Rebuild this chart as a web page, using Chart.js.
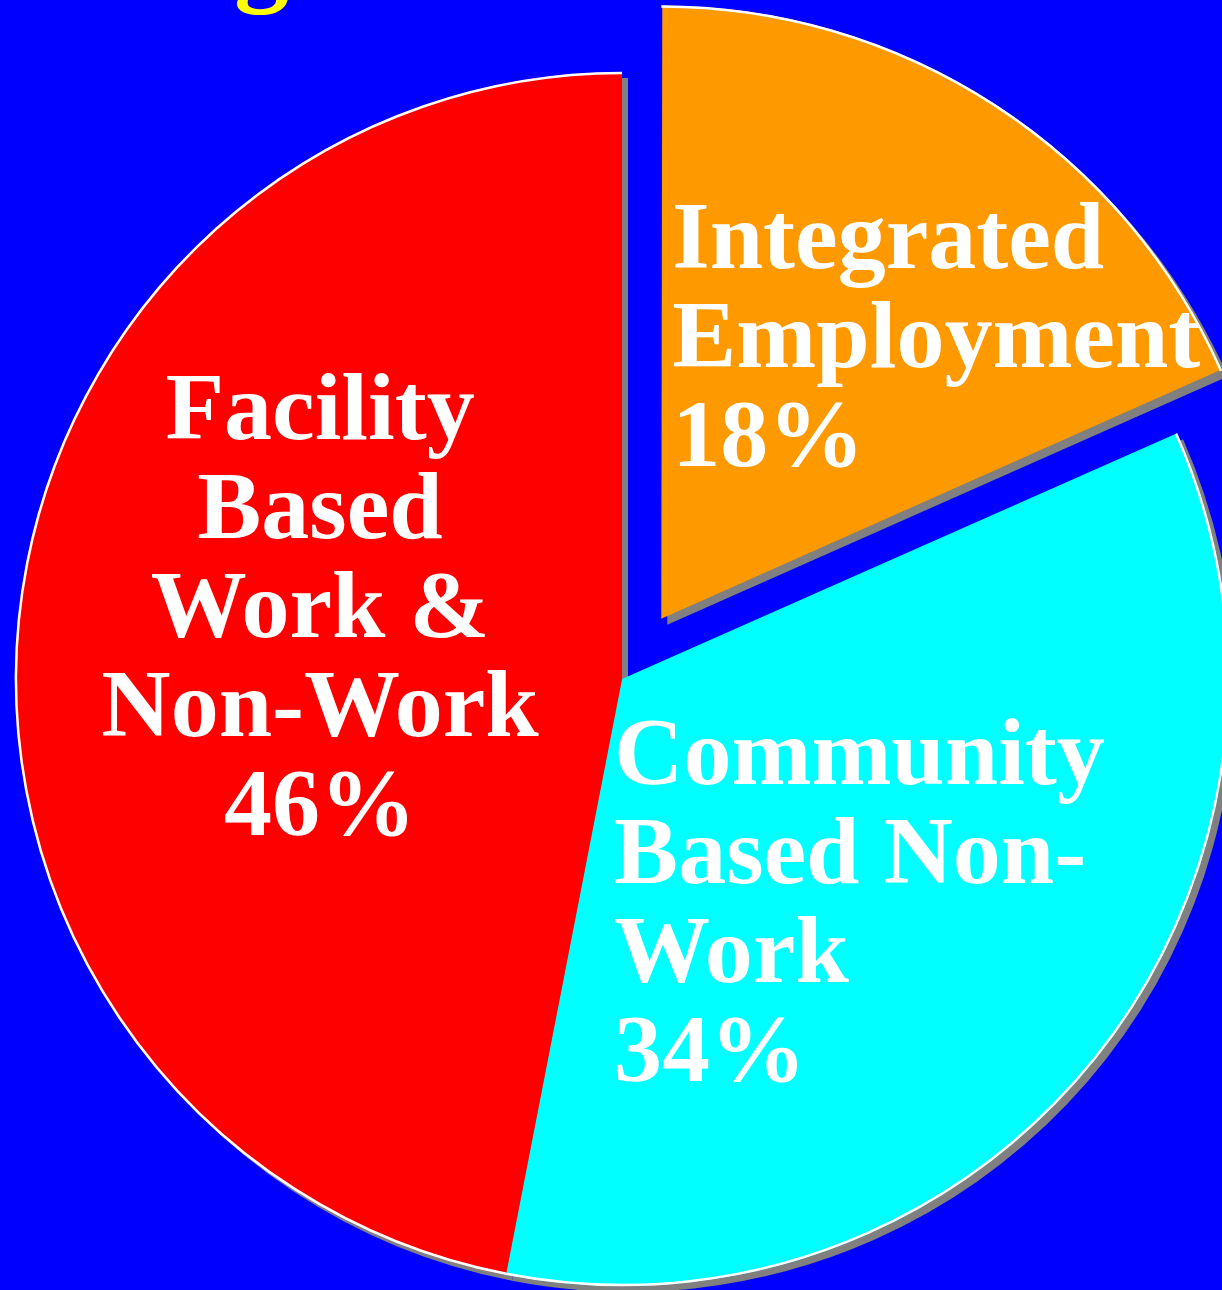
<!DOCTYPE html>
<html>
<head>
<meta charset="utf-8">
<script src="https://cdn.jsdelivr.net/npm/chart.js@4.4.1/dist/chart.umd.min.js"></script>
<style>
  html, body { margin: 0; padding: 0; background: #0000ff; }
  canvas { display: block; }
</style>
</head>
<body>
<canvas id="pieChart" width="1222" height="1290"></canvas>
<script>
// data
const categories = ['Integrated Employment', 'Community Based Non-Work', 'Facility Based Work & Non-Work'];
const shares = [18, 34, 46];
const sliceLabels = [
    ['Integrated', 'Employment', '18%'],
    ['Community', 'Based Non-', 'Work', '34%'],
    ['Facility', 'Based', 'Work &', 'Non-Work', '46%']
];
const sliceColors = ['#ff9900', '#00ffff', '#ff0000'];
const titleText = 'g';

// label anchors, as fractions of the radius from each slice's centre
const labelLayout = [
    { dx: 0.018, dy: -0.572, align: 'left' },
    { dx: -0.013, dy: 0.173, align: 'left' },
    { dx: -0.4975, dy: -0.395, align: 'center' }
];
const OFFSET_DIV = 4; // chart.js v4 arc offset divisor
const SHADOW = 6;

function arcGeom(arc) {
    const p = arc.getProps(['x', 'y', 'startAngle', 'endAngle', 'outerRadius', 'circumference']);
    const off = (arc.options.offset || 0) / OFFSET_DIV;
    const half = (p.startAngle + p.endAngle) / 2;
    const fix = 1 - Math.sin(Math.min(Math.PI, p.circumference || 0));
    return {
        x: p.x + Math.cos(half) * off,
        y: p.y + Math.sin(half) * off,
        r: p.outerRadius + off * fix,
        start: p.startAngle,
        end: p.endAngle
    };
}

const pieDecor = {
    id: 'pieDecor',
    beforeDatasetsDraw(chart) {
        const ctx = chart.ctx;
        ctx.save();
        ctx.fillStyle = '#808080';
        chart.getDatasetMeta(0).data.forEach(arc => {
            const g = arcGeom(arc);
            ctx.beginPath();
            ctx.moveTo(g.x + SHADOW, g.y + SHADOW);
            ctx.arc(g.x + SHADOW, g.y + SHADOW, g.r, g.start, g.end);
            ctx.closePath();
            ctx.fill();
        });
        ctx.restore();
    },
    afterDatasetsDraw(chart) {
        const ctx = chart.ctx;
        ctx.save();
        ctx.strokeStyle = '#ffffff';
        ctx.lineWidth = 2.5;
        chart.getDatasetMeta(0).data.forEach((arc, i) => {
            const g = arcGeom(arc);
            ctx.beginPath();
            ctx.arc(g.x, g.y, g.r - 1, g.start, g.end);
            ctx.stroke();
        });

        ctx.fillStyle = '#ffffff';
        ctx.font = 'bold 96px "Liberation Serif", "Times New Roman", serif';
        ctx.textBaseline = 'alphabetic';
        chart.getDatasetMeta(0).data.forEach((arc, i) => {
            const g = arcGeom(arc);
            const lay = labelLayout[i];
            ctx.textAlign = lay.align;
            const x0 = g.x + lay.dx * g.r;
            const y0 = g.y + lay.dy * g.r;
            sliceLabels[i].forEach((line, j) => {
                ctx.fillText(line, x0, y0 + j * 99);
            });
        });

        // cut-off title at the top edge
        ctx.fillStyle = '#ffff00';
        ctx.textAlign = 'left';
        ctx.font = 'bold 110px "Liberation Serif", "Times New Roman", serif';
        ctx.fillText(titleText, 234, -9);
        ctx.restore();
    }
};

new Chart(document.getElementById('pieChart'), {
    type: 'pie',
    data: {
        labels: categories,
        datasets: [{
            data: shares,
            backgroundColor: sliceColors,
            borderWidth: 0,
            offset: [288, 0, 0]
        }]
    },
    options: {
        responsive: false,
        animation: false,
        radius: 607,
        layout: { padding: { left: 22, top: 68, right: 0, bottom: 0 } },
        plugins: {
            legend: { display: false },
            tooltip: { enabled: false },
            title: { display: false }
        }
    },
    plugins: [pieDecor]
});
</script>
</body>
</html>
